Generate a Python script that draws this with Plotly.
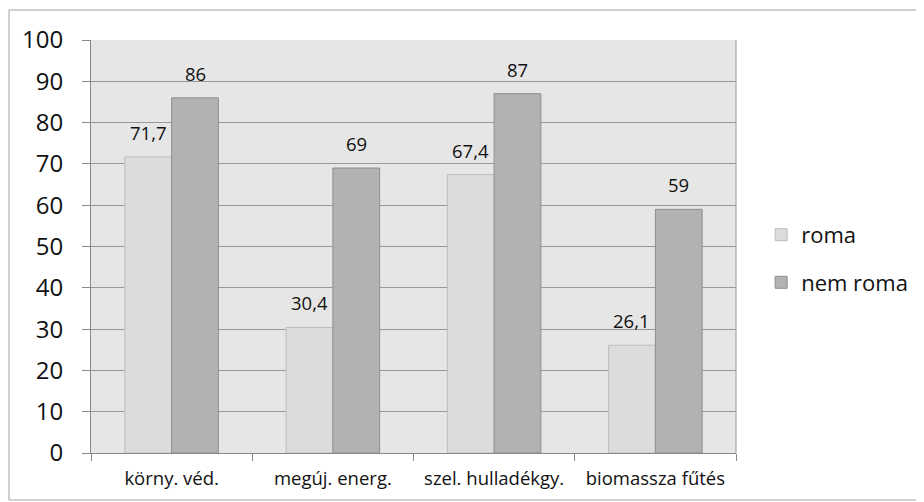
import plotly.graph_objects as go

categories = ["körny. véd.", "megúj. energ.", "szel. hulladékgy.", "biomassza fűtés"]
roma = [71.7, 30.4, 67.4, 26.1]
nem_roma = [86, 69, 87, 59]
series_names = ["roma", "nem roma"]
y_ticks = [0, 10, 20, 30, 40, 50, 60, 70, 80, 90, 100]

FONT = "Open Sans"

def fmt(v):
    return ("%g" % v).replace(".", ",")

# page has an 8px body margin; figure is sized/offset to compensate
W, H = 916, 494
L, T = 83, 32
PR, PB = 728, 445          # plot right / bottom in figure px
PW, PH = PR - L, PB - T

fig = go.Figure()
fig.add_trace(go.Bar(name=series_names[0], x=categories, y=roma,
                     marker=dict(color="#DCDCDC", line=dict(color="#BDBDBD", width=1)),
                     legendgroup="a"))
fig.add_trace(go.Bar(name=series_names[1], x=categories, y=nem_roma,
                     marker=dict(color="#B2B2B2", line=dict(color="#8E8E8E", width=1)),
                     legendgroup="b"))

annotations = []
for vals, shift in ((roma, -23.5), (nem_roma, 23.5)):
    for c, v in zip(categories, vals):
        annotations.append(dict(x=c, y=v, xref="x", yref="y", text=fmt(v),
                                showarrow=False, xshift=shift, yanchor="bottom", yshift=10,
                                font=dict(family=FONT, size=18.5, color="#111")))

fig.update_layout(
    width=W, height=H,
    margin=dict(l=L, r=W - PR, t=T, b=H - PB, autoexpand=False),
    paper_bgcolor="white",
    plot_bgcolor="#E6E6E6",
    barmode="group",
    bargap=0.42,
    bargroupgap=0,
    font=dict(family=FONT, color="#111"),
    annotations=annotations,
    legend=dict(x=1.039, y=0.47, xanchor="left", yanchor="middle",
                font=dict(family=FONT, size=22, color="#111"),
                tracegroupgap=16, bgcolor="rgba(0,0,0,0)"),
    shapes=[dict(type="rect", xref="paper", yref="paper",
                 x0=(1 - L) / PW, x1=(915 - L) / PW, y0=(PB - 492) / PH, y1=(PB - 2) / PH,
                 line=dict(color="#A0A0A0", width=1), fillcolor="rgba(0,0,0,0)", layer="below"),
            dict(type="line", xref="paper", yref="paper", x0=1, x1=1, y0=0, y1=1,
                 line=dict(color="#999999", width=1))],
)
fig.update_yaxes(range=[0, 100], tickvals=y_ticks, showgrid=True, gridcolor="#999999", gridwidth=1,
                 ticks="outside", ticklen=8, tickcolor="#888888", showline=True, linecolor="#888888",
                 tickfont=dict(family=FONT, size=24, color="#111"), ticklabelstandoff=14,
                 zeroline=False)
fig.update_xaxes(showline=True, linecolor="#888888", ticks="outside", ticklen=7, tickcolor="#888888",
                 tickson="boundaries", tickfont=dict(family=FONT, size=18.5, color="#111"),
                 ticklabelstandoff=9)

fig.write_html("out.html")
